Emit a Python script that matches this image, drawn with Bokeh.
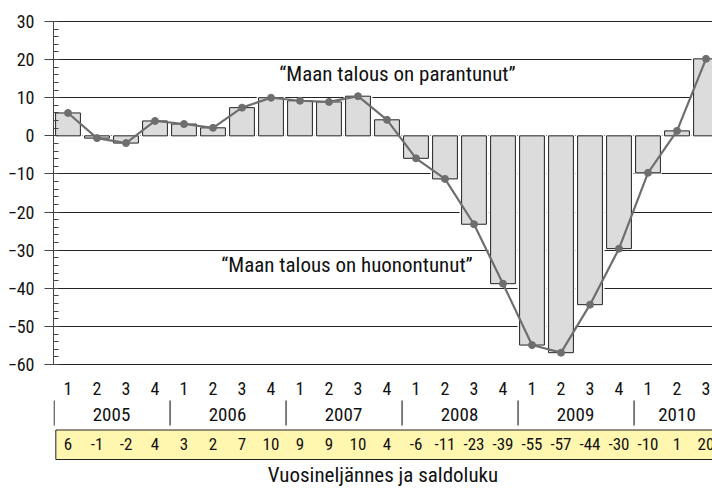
from bokeh.plotting import figure
from bokeh.models import ColumnDataSource, FixedTicker, Range1d
from bokeh.core.properties import value
from bokeh.embed import file_html
from bokeh.resources import INLINE

# ---- data ----
quarters = ["1", "2", "3", "4"] * 5 + ["1", "2", "3"]
years = ["2005", "2006", "2007", "2008", "2009", "2010"]
year_quarter_counts = [4, 4, 4, 4, 4, 3]
saldo = [6.0, -0.6, -1.9, 3.9,
         3.1, 2.1, 7.4, 10.0,
         9.2, 8.9, 10.4, 4.2,
         -5.9, -11.3, -23.2, -38.8,
         -54.9, -56.9, -44.3, -29.6,
         -9.7, 1.3, 20.2]
table_labels = ["6", "-1", "-2", "4", "3", "2", "7", "10", "9", "9", "10", "4",
                "-6", "-11", "-23", "-39", "-55", "-57", "-44", "-30", "-10", "1", "20"]
y_ticks = [-60, -50, -40, -30, -20, -10, 0, 10, 20, 30]
note_up = "\u201cMaan talous on parantunut\u201d"
note_down = "\u201cMaan talous on huonontunut\u201d"
x_title = "Vuosineljännes ja saldoluku"

FAMILY = "Roboto Condensed, Liberation Sans Narrow, Roboto, sans-serif"
FONT = value(FAMILY)

# ---- layout helpers (pixel -> data for label rows) ----
PX_PER_UNIT = 3.811
TOP_PX = 21.0  # picture y of value 30
FIG_TOP = 0.0
FIG_H = 490
FIG_W = 712
LEFT = 53
X0 = LEFT  # picture x of frame left


def ypx(py):
    return 30 - (py - TOP_PX) / PX_PER_UNIT


def xpx(px):
    return (px - X0) / 29.0


y_end = ypx(FIG_TOP)
y_start = ypx(FIG_TOP + FIG_H)
x_end = (FIG_W - LEFT) / 29.0

n = len(saldo)
xc = [i + 0.5 for i in range(n)]

p = figure(width=FIG_W, height=FIG_H, output_backend="svg", toolbar_location=None,
           x_range=Range1d(0, x_end), y_range=Range1d(y_start, y_end),
           min_border_left=LEFT, min_border_right=0, min_border_top=0, min_border_bottom=0)
p.outline_line_color = None
p.background_fill_color = "white"
p.border_fill_color = "white"
p.xaxis.visible = False
p.xgrid.visible = False

# y axis
ya = p.yaxis[0]
ya.ticker = FixedTicker(ticks=y_ticks, minor_ticks=[v for v in range(-60, 31, 2)])
ya.bounds = (-60, 30)
ya.axis_line_color = "#444444"
ya.axis_line_width = 1
ya.major_tick_out = 9
ya.major_tick_in = 0
ya.major_tick_line_color = "#444444"
ya.minor_tick_in = 5
ya.minor_tick_out = 0
ya.minor_tick_line_color = "#444444"
ya.major_label_standoff = 10
ya.major_label_text_font = FAMILY
ya.major_label_text_font_size = "18px"
ya.major_label_text_color = "#111111"

p.ygrid.ticker = FixedTicker(ticks=y_ticks)
p.ygrid.grid_line_color = "#222222"
p.ygrid.grid_line_width = 1

src = ColumnDataSource(dict(x=xc, saldo=saldo, zero=[0] * n,
                            q=quarters, lab=table_labels))

# white halo around bars, then bars
p.vbar(x="x", top="saldo", bottom="zero", width=0.93, source=src,
       fill_color="white", line_color="white", line_width=2)
p.vbar(x="x", top="saldo", bottom="zero", width=0.855, source=src,
       fill_color="#DCDCDC", line_color="#222222", line_width=1)

# line with markers
p.line(x="x", y="saldo", source=src, line_color="#6E6E6E", line_width=2.2)
p.scatter(x="x", y="saldo", source=src, size=7, fill_color="#6E6E6E", line_color="#6E6E6E")

# annotations
p.text(x=[xpx(397)], y=[ypx(73)], text=[note_up], text_font=FONT,
       text_font_size="21px", text_align="center", text_baseline="middle", text_color="#111111")
p.text(x=[xpx(346.5)], y=[ypx(264)], text=[note_down], text_font=FONT,
       text_font_size="21px", text_align="center", text_baseline="middle", text_color="#111111")

# quarter labels row
p.text(x="x", y=ypx(388), text="q", source=src, text_font=FONT, text_font_size="18px",
       text_align="center", text_baseline="middle", text_color="#111111")

# year labels and separators
starts = []
s = 0
for c in year_quarter_counts:
    starts.append(s)
    s += c
year_centers = [st + c / 2 for st, c in zip(starts, year_quarter_counts)]
p.text(x=year_centers, y=[ypx(414)] * len(years), text=years, text_font=FONT,
       text_font_size="19px", text_align="center", text_baseline="middle", text_color="#111111")
p.segment(x0=[st + 0.02 for st in starts], y0=[ypx(400)] * len(starts),
          x1=[st + 0.02 for st in starts], y1=[ypx(425)] * len(starts),
          line_color="#555555", line_width=1.5)

# yellow value table
p.quad(left=[0.08], right=[n + 1], top=[ypx(429.5)], bottom=[ypx(459)],
       fill_color="#FFF6B0", line_color="#222222", line_width=1)
p.text(x="x", y=ypx(443), text="lab", source=src, text_font=FONT, text_font_size="17px",
       text_align="center", text_baseline="middle", text_color="#111111")

# axis title
p.text(x=[x_end / 2], y=[ypx(474)], text=[x_title], text_font=FONT, text_font_size="21px",
       text_align="center", text_baseline="middle", text_color="#111111")

open("out.html", "w").write(file_html(p, INLINE))
